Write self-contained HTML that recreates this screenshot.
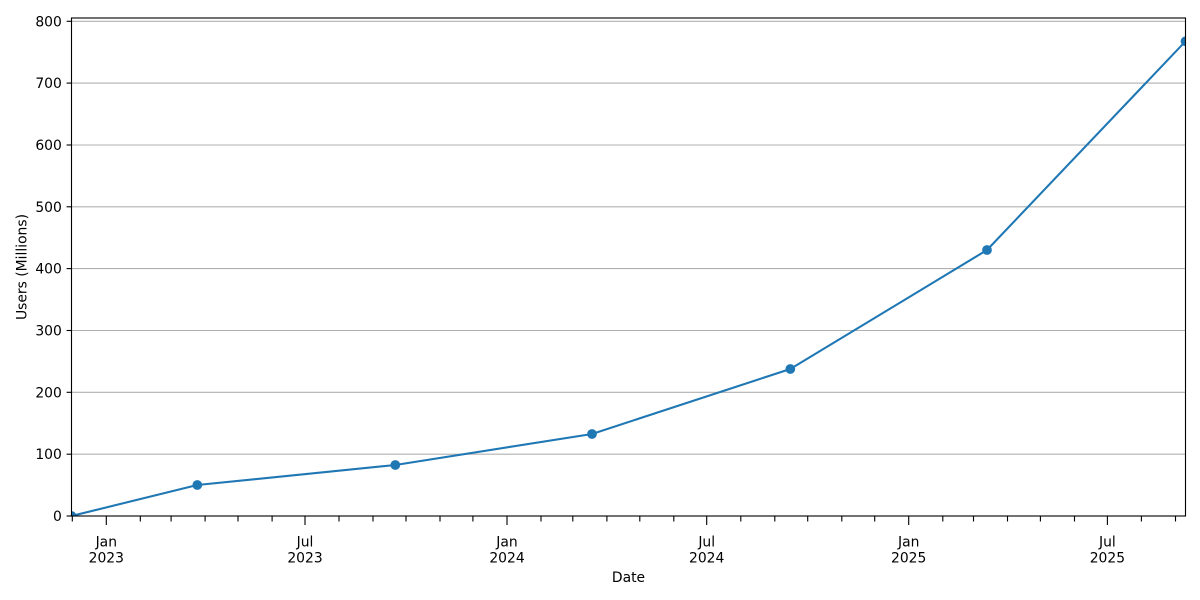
<!DOCTYPE html>
<html>
<head>
<meta charset="utf-8">
<style>
  html, body { margin: 0; padding: 0; background: #ffffff; }
  svg { display: block; }
  text { font-family: "DejaVu Sans", "Liberation Sans", sans-serif; font-size: 13.89px; fill: #000; }
</style>
</head>
<body>
<svg width="1200" height="600" viewBox="0 0 1200 600" xmlns="http://www.w3.org/2000/svg">
  <rect x="0" y="0" width="1200" height="600" fill="#ffffff"/>
  <defs>
    <clipPath id="ax">
      <rect x="71.5" y="18" width="1114" height="498"/>
    </clipPath>
  </defs>

  <!-- horizontal grid -->
  <g stroke="#b0b0b0" stroke-width="1.11" fill="none">
    <line x1="71.5" x2="1185.5" y1="454.2" y2="454.2"/>
    <line x1="71.5" x2="1185.5" y1="392.3" y2="392.3"/>
    <line x1="71.5" x2="1185.5" y1="330.5" y2="330.5"/>
    <line x1="71.5" x2="1185.5" y1="268.6" y2="268.6"/>
    <line x1="71.5" x2="1185.5" y1="206.8" y2="206.8"/>
    <line x1="71.5" x2="1185.5" y1="145.0" y2="145.0"/>
    <line x1="71.5" x2="1185.5" y1="83.1" y2="83.1"/>
    <line x1="71.5" x2="1185.5" y1="21.3" y2="21.3"/>
  </g>

  <!-- series -->
  <g clip-path="url(#ax)">
    <polyline fill="none" stroke="#1f77b4" stroke-width="2.08" stroke-linejoin="round"
      points="71.5,516 197.3,485 395.3,465 592,434 790.3,369 987,250 1185.5,41.3"/>
    <g fill="#1f77b4" stroke="#1f77b4" stroke-width="1.39">
      <circle cx="71.5" cy="516" r="4.17"/>
      <circle cx="197.3" cy="485" r="4.17"/>
      <circle cx="395.3" cy="465" r="4.17"/>
      <circle cx="592" cy="434" r="4.17"/>
      <circle cx="790.3" cy="369" r="4.17"/>
      <circle cx="987" cy="250" r="4.17"/>
      <circle cx="1185.5" cy="41.3" r="4.17"/>
    </g>
  </g>

  <!-- spines -->
  <rect x="71.5" y="18" width="1114" height="498" fill="none" stroke="#000" stroke-width="1.11"/>

  <!-- y ticks -->
  <g stroke="#000" stroke-width="1.11">
    <line x1="66.6" x2="71.5" y1="516" y2="516"/>
    <line x1="66.6" x2="71.5" y1="454.2" y2="454.2"/>
    <line x1="66.6" x2="71.5" y1="392.3" y2="392.3"/>
    <line x1="66.6" x2="71.5" y1="330.5" y2="330.5"/>
    <line x1="66.6" x2="71.5" y1="268.6" y2="268.6"/>
    <line x1="66.6" x2="71.5" y1="206.8" y2="206.8"/>
    <line x1="66.6" x2="71.5" y1="145.0" y2="145.0"/>
    <line x1="66.6" x2="71.5" y1="83.1" y2="83.1"/>
    <line x1="66.6" x2="71.5" y1="21.3" y2="21.3"/>
  </g>
  <g text-anchor="end">
    <text x="61.8" y="521">0</text>
    <text x="61.8" y="459.2">100</text>
    <text x="61.8" y="397.3">200</text>
    <text x="61.8" y="335.5">300</text>
    <text x="61.8" y="273.6">400</text>
    <text x="61.8" y="211.8">500</text>
    <text x="61.8" y="150.0">600</text>
    <text x="61.8" y="88.1">700</text>
    <text x="61.8" y="26.3">800</text>
  </g>

  <!-- x minor ticks (months) -->
  <g stroke="#000" stroke-width="1.11">
    <line x1="72.3" x2="72.3" y1="516" y2="521.5"/>
    <line x1="140.3" x2="140.3" y1="516" y2="521.5"/>
    <line x1="171.1" x2="171.1" y1="516" y2="521.5"/>
    <line x1="205.1" x2="205.1" y1="516" y2="521.5"/>
    <line x1="238.0" x2="238.0" y1="516" y2="521.5"/>
    <line x1="272.1" x2="272.1" y1="516" y2="521.5"/>
    <line x1="339.0" x2="339.0" y1="516" y2="521.5"/>
    <line x1="373.0" x2="373.0" y1="516" y2="521.5"/>
    <line x1="406.0" x2="406.0" y1="516" y2="521.5"/>
    <line x1="440.0" x2="440.0" y1="516" y2="521.5"/>
    <line x1="472.9" x2="472.9" y1="516" y2="521.5"/>
    <line x1="541.0" x2="541.0" y1="516" y2="521.5"/>
    <line x1="572.8" x2="572.8" y1="516" y2="521.5"/>
    <line x1="606.9" x2="606.9" y1="516" y2="521.5"/>
    <line x1="639.8" x2="639.8" y1="516" y2="521.5"/>
    <line x1="673.8" x2="673.8" y1="516" y2="521.5"/>
    <line x1="740.8" x2="740.8" y1="516" y2="521.5"/>
    <line x1="774.8" x2="774.8" y1="516" y2="521.5"/>
    <line x1="807.7" x2="807.7" y1="516" y2="521.5"/>
    <line x1="841.8" x2="841.8" y1="516" y2="521.5"/>
    <line x1="874.7" x2="874.7" y1="516" y2="521.5"/>
    <line x1="942.8" x2="942.8" y1="516" y2="521.5"/>
    <line x1="973.5" x2="973.5" y1="516" y2="521.5"/>
    <line x1="1007.5" x2="1007.5" y1="516" y2="521.5"/>
    <line x1="1040.4" x2="1040.4" y1="516" y2="521.5"/>
    <line x1="1074.5" x2="1074.5" y1="516" y2="521.5"/>
    <line x1="1141.4" x2="1141.4" y1="516" y2="521.5"/>
    <line x1="1175.5" x2="1175.5" y1="516" y2="521.5"/>
  </g>
  <!-- x major ticks (Jan / Jul) -->
  <g stroke="#000" stroke-width="1.11">
    <line x1="106.3" x2="106.3" y1="516" y2="525"/>
    <line x1="305.0" x2="305.0" y1="516" y2="525"/>
    <line x1="507.0" x2="507.0" y1="516" y2="525"/>
    <line x1="706.7" x2="706.7" y1="516" y2="525"/>
    <line x1="908.7" x2="908.7" y1="516" y2="525"/>
    <line x1="1107.4" x2="1107.4" y1="516" y2="525"/>
  </g>
  <g text-anchor="middle">
    <text x="106.3" y="546.5">Jan</text><text x="106.3" y="562.5">2023</text>
    <text x="305.0" y="546.5">Jul</text><text x="305.0" y="562.5">2023</text>
    <text x="507.0" y="546.5">Jan</text><text x="507.0" y="562.5">2024</text>
    <text x="706.7" y="546.5">Jul</text><text x="706.7" y="562.5">2024</text>
    <text x="908.7" y="546.5">Jan</text><text x="908.7" y="562.5">2025</text>
    <text x="1107.4" y="546.5">Jul</text><text x="1107.4" y="562.5">2025</text>
  </g>

  <!-- axis labels -->
  <text x="628.5" y="582" text-anchor="middle">Date</text>
  <text transform="translate(26.4,267) rotate(-90)" text-anchor="middle">Users (Millions)</text>
</svg>
</body>
</html>
